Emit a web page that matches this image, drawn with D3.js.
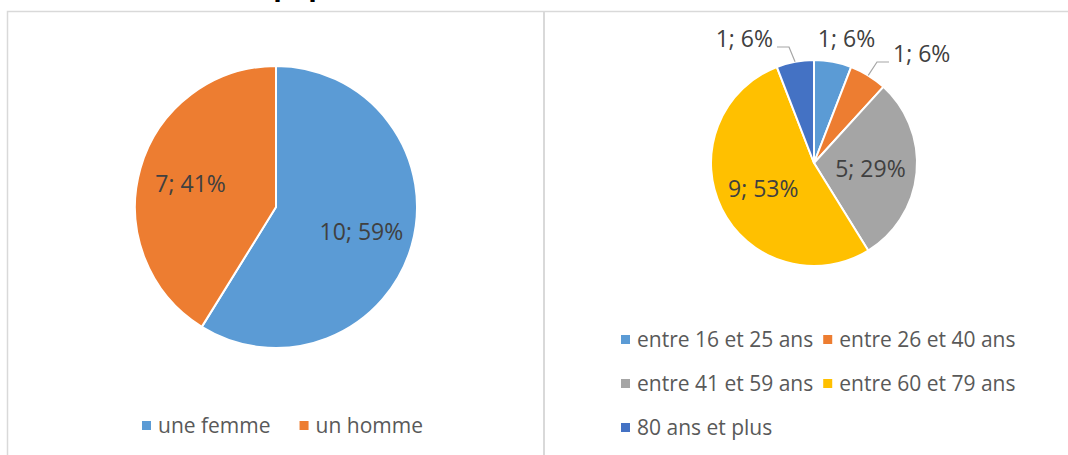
<!DOCTYPE html>
<html>
<head>
<meta charset="utf-8">
<script src="https://cdn.jsdelivr.net/npm/d3@7"></script>
<style>
  html, body { margin: 0; padding: 0; background: #fff; }
  svg { display: block; }
  text { font-family: "Open Sans", "Liberation Sans", sans-serif; }
</style>
</head>
<body>
<svg id="chart" width="1068" height="455"></svg>
<script>
// Répartition par sexe
const sexCategories = ["une femme", "un homme"];
const sexValues = [10, 7];
const sexColors = ["#5B9BD5", "#ED7D31"];

// Répartition par tranche d'âge
const ageCategories = ["entre 16 et 25 ans", "entre 26 et 40 ans", "entre 41 et 59 ans", "entre 60 et 79 ans", "80 ans et plus"];
const ageValues = [1, 1, 5, 9, 1];
const ageColors = ["#5B9BD5", "#ED7D31", "#A5A5A5", "#FFC000", "#4472C4"];

const titleText = "Profil de la population";

const svg = d3.select("#chart");
const W = 1068, H = 455;

svg.append("rect").attr("width", W).attr("height", H).attr("fill", "#fff");

// Title (sits above the visible frame)
const titleFont = "bold 28px 'Open Sans'";
const probe = svg.append("text").style("font", titleFont).text("Profil de la ");
const prefixW = probe.node().getComputedTextLength();
probe.remove();
svg.append("text")
  .attr("x", 266 - prefixW)
  .attr("y", -5)
  .style("font", titleFont)
  .attr("fill", "#000")
  .text(titleText);

// Chart frames
const frame = svg.append("g").attr("fill", "none").attr("stroke", "#D9D9D9");
frame.append("path").attr("stroke-width", 1.5).attr("d", `M7.5,${H}V11.5H${W}`);
frame.append("line").attr("stroke-width", 2).attr("x1", 544).attr("x2", 544).attr("y1", 11.5).attr("y2", H);

const labelColor = "#404040";
const legendColor = "#595959";

function pct(v, total) { return Math.round(v / total * 100); }

function drawPie(opts) {
  const { values, colors, cx, cy, r, labelRatio, outside } = opts;
  const total = d3.sum(values);
  const pie = d3.pie().sort(null).value(d => d);
  const arcs = pie(values);
  const arc = d3.arc().innerRadius(0).outerRadius(r);
  const labelArc = d3.arc().innerRadius(r * labelRatio).outerRadius(r * labelRatio);
  const g = svg.append("g").attr("transform", `translate(${cx},${cy})`);

  g.selectAll("path.slice").data(arcs).join("path")
    .attr("class", "slice")
    .attr("d", arc)
    .attr("fill", (d, i) => colors[i])
    .attr("stroke", "#fff")
    .attr("stroke-width", 2)
    .attr("stroke-linejoin", "round");

  arcs.forEach((d, i) => {
    const txt = `${d.value}; ${pct(d.value, total)}%`;
    const o = outside && outside[i];
    if (!o) {
      const [x, y] = labelArc.centroid(d);
      g.append("text")
        .attr("x", x).attr("y", y)
        .attr("text-anchor", "middle")
        .attr("dominant-baseline", "central")
        .attr("font-size", 23)
        .attr("fill", labelColor)
        .text(txt);
    } else {
      g.append("text")
        .attr("x", o.x).attr("y", o.y)
        .attr("text-anchor", o.anchor)
        .attr("font-size", 23)
        .attr("fill", labelColor)
        .text(txt);
      if (o.leader) {
        const mid = (d.startAngle + d.endAngle) / 2;
        const ex = Math.sin(mid) * r, ey = -Math.cos(mid) * r;
        const side = o.anchor === "start" ? -1 : 1;
        const pts = [[ex, ey], [o.x + side * 16, o.y], [o.x + side * 4, o.y]];
        g.append("path")
          .attr("d", d3.line()(pts))
          .attr("fill", "none")
          .attr("stroke", "#A6A6A6")
          .attr("stroke-width", 1.2);
      }
    }
  });
}

// Pie: sexe
drawPie({
  values: sexValues, colors: sexColors,
  cx: 276, cy: 207, r: 141, labelRatio: 0.63
});

// Pie: âge (small slices labelled outside the circle)
drawPie({
  values: ageValues, colors: ageColors,
  cx: 814, cy: 163, r: 103, labelRatio: 0.55,
  outside: {
    0: { x: 32.5, y: -116, anchor: "middle", leader: false },
    1: { x: 79, y: -101, anchor: "start", leader: true },
    4: { x: -41, y: -116, anchor: "end", leader: true }
  }
});

// Legends
function drawLegend(items, colors, x0, y0, perRow, colGap, rowGap, itemGap) {
  const g = svg.append("g");
  const fs = 21;
  const measure = g.append("text").attr("font-size", fs);
  const widths = items.map(s => { measure.text(s); return measure.node().getComputedTextLength(); });
  measure.remove();
  const colW = d3.max(widths) + 16 + colGap;
  items.forEach((s, i) => {
    const row = Math.floor(i / perRow), col = i % perRow;
    let x;
    if (itemGap != null) {
      x = x0 + d3.sum(widths.slice(0, col)) + col * (16 + itemGap);
    } else {
      x = x0 + col * colW;
    }
    const y = y0 + row * rowGap;
    g.append("rect")
      .attr("x", x).attr("y", y - 12)
      .attr("width", 9).attr("height", 9)
      .attr("fill", colors[i]);
    g.append("text")
      .attr("x", x + 16).attr("y", y)
      .attr("font-size", fs)
      .attr("fill", legendColor)
      .text(s);
  });
}

drawLegend(sexCategories, sexColors, 142, 433, 2, 0, 0, 29);
drawLegend(ageCategories, ageColors, 621, 347, 2, 10, 44, null);
</script>
</body>
</html>
